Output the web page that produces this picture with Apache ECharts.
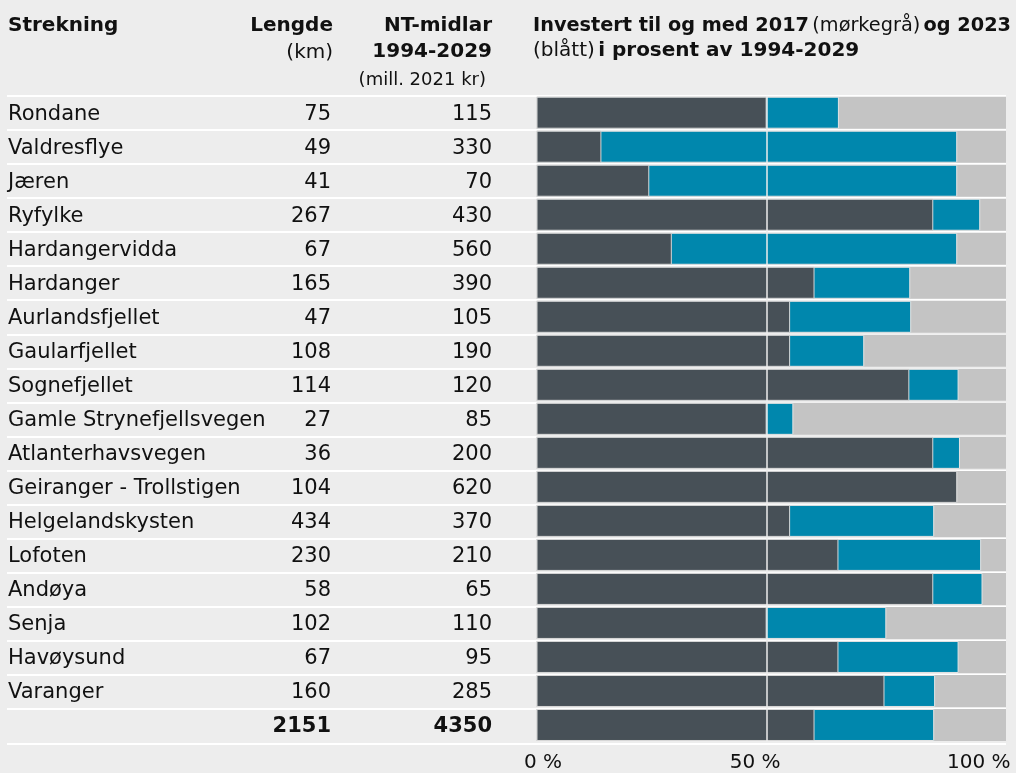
<!DOCTYPE html>
<html>
<head>
<meta charset="utf-8">
<script src="https://cdn.jsdelivr.net/npm/echarts@6/dist/echarts.min.js"></script>
<style>
    html, body { margin: 0; background: #ededed; }
    #chart { width: 1016px; height: 773px; }
</style>
</head>
<body>
<div id="chart"></div>
<script>
    var strekning = ['Rondane', 'Valdresflye', 'Jæren', 'Ryfylke', 'Hardangervidda', 'Hardanger',
        'Aurlandsfjellet', 'Gaularfjellet', 'Sognefjellet', 'Gamle Strynefjellsvegen', 'Atlanterhavsvegen',
        'Geiranger - Trollstigen', 'Helgelandskysten', 'Lofoten', 'Andøya', 'Senja', 'Havøysund', 'Varanger', ''];
    var lengde = [75, 49, 41, 267, 67, 165, 47, 108, 114, 27, 36, 104, 434, 230, 58, 102, 67, 160, 2151];
    var ntMidlar = [115, 330, 70, 430, 560, 390, 105, 190, 120, 85, 200, 620, 370, 210, 65, 110, 95, 285, 4350];
    // prosent investert (lest av figuren)
    var inv2017 = [50, 14.1, 24.5, 86.2, 29.4, 60.4, 55.1, 55.1, 81.0, 50, 86.2, 91.4, 55.1, 65.6, 86.2, 50, 65.6, 75.6, 60.4];
    var inv2023 = [65.7, 91.4, 91.4, 96.4, 91.4, 81.2, 81.4, 71.2, 91.7, 55.8, 92.0, 91.4, 86.4, 96.6, 96.9, 76.0, 91.7, 86.6, 86.4];
    var tickLabels = {0: '0 %', 50: '50 %', 100: '100 %'};

    var FONT = 'DejaVu Sans';
    var last = strekning.length - 1;

    var chart = echarts.init(document.getElementById('chart'));

    function cell(w, align, bold) {
        return { width: w, align: align, fontSize: 21, color: '#111', fontFamily: FONT,
            fontWeight: bold ? 'bold' : 'normal', padding: [3, 0, 0, 0] };
    }

    var option = {
        backgroundColor: '#ededed',
        textStyle: { fontFamily: FONT },
        animation: false,
        grid: [
            { left: 7, right: 10, top: 95.7, height: 647.6 },
            { left: 536.5, right: 10, top: 95.7, height: 647.6 }
        ],
        xAxis: [
            { gridIndex: 0, type: 'value', show: false },
            {
                gridIndex: 1, type: 'value', min: 0, max: 102, interval: 50,
                splitLine: { show: false }, axisLine: { show: false }, axisTick: { show: false },
                axisLabel: {
                    margin: 11, color: '#111', fontSize: 20, fontFamily: FONT,
                    formatter: function (v) {
                        if (v === 0) return '{a|' + tickLabels[0] + '}';
                        if (v === 50) return '{b|' + tickLabels[50] + '}';
                        if (v === 100) return '{c|' + tickLabels[100] + '}';
                        return '';
                    },
                    rich: {
                        a: { fontSize: 20, color: '#111', fontFamily: FONT, padding: [0, 0, 0, 13] },
                        b: { fontSize: 20, color: '#111', fontFamily: FONT, padding: [0, 23, 0, 0] },
                        c: { fontSize: 20, color: '#111', fontFamily: FONT, padding: [0, 36, 0, 0] }
                    }
                }
            }
        ],
        yAxis: [
            {
                gridIndex: 0, type: 'category', inverse: true, data: strekning,
                axisLine: { show: false }, axisTick: { show: false }, axisLabel: { show: false },
                splitLine: { show: true, interval: 0, lineStyle: { color: '#ffffff', width: 2 } }
            },
            {
                gridIndex: 1, type: 'category', inverse: true, data: strekning,
                axisLine: { show: false }, axisTick: { show: false },
                axisLabel: {
                    interval: 0, margin: 528.5, align: 'left',
                    formatter: function (v, i) {
                        if (i === last) return '{n| }{lb|' + lengde[i] + '}{mb|' + ntMidlar[i] + '}';
                        return '{n|' + v + '}{l|' + lengde[i] + '}{m|' + ntMidlar[i] + '}';
                    },
                    rich: {
                        n: cell(250, 'left', false),
                        l: cell(73, 'right', false),
                        m: cell(161, 'right', false),
                        lb: cell(73, 'right', true),
                        mb: cell(161, 'right', true)
                    }
                }
            }
        ],
        graphic: [
            { type: 'text', x: 8, y: 26, style: { text: 'Strekning', font: 'bold 20px ' + FONT, fill: '#111', verticalAlign: 'middle' } },
            { type: 'text', x: 333, y: 26, style: { text: 'Lengde', font: 'bold 20px ' + FONT, fill: '#111', align: 'right', verticalAlign: 'middle' } },
            { type: 'text', x: 333, y: 53, style: { text: '(km)', font: '20px ' + FONT, fill: '#111', align: 'right', verticalAlign: 'middle' } },
            { type: 'text', x: 492, y: 26, style: { text: 'NT-midlar', font: 'bold 20px ' + FONT, fill: '#111', align: 'right', verticalAlign: 'middle' } },
            { type: 'text', x: 492, y: 52, style: { text: '1994-2029', font: 'bold 20px ' + FONT, fill: '#111', align: 'right', verticalAlign: 'middle' } },
            { type: 'text', x: 486, y: 80, style: { text: '(mill. 2021 kr)', font: '18px ' + FONT, fill: '#111', align: 'right', verticalAlign: 'middle' } },
            {
                type: 'text', x: 533, y: 26,
                style: {
                    text: '{b|Investert til og med 2017} {r|(mørkegrå)} {b|og 2023}', verticalAlign: 'middle',
                    rich: {
                        b: { font: 'bold 19.3px ' + FONT, fill: '#111' },
                        r: { font: '19.3px ' + FONT, fill: '#111' }
                    }
                }
            },
            {
                type: 'text', x: 533, y: 51,
                style: {
                    text: '{r|(blått)} {b|i prosent av 1994-2029}', verticalAlign: 'middle',
                    rich: {
                        b: { font: 'bold 20px ' + FONT, fill: '#111' },
                        r: { font: '20px ' + FONT, fill: '#111' }
                    }
                }
            }
        ],
        series: [
            {
                name: '2023', type: 'bar', xAxisIndex: 1, yAxisIndex: 1,
                data: inv2023, barWidth: 32, barGap: '-100%',
                showBackground: true, backgroundStyle: { color: '#c4c4c4' },
                itemStyle: { color: '#0087ad', borderColor: '#e4e4e4', borderWidth: 1 }
            },
            {
                name: '2017', type: 'bar', xAxisIndex: 1, yAxisIndex: 1,
                data: inv2017, barWidth: 32, barGap: '-100%',
                itemStyle: { color: '#475057', borderColor: '#d8d8d8', borderWidth: 1 },
                markLine: {
                    silent: true, symbol: 'none', label: { show: false },
                    lineStyle: { color: '#ededed', width: 1.5, type: 'solid' },
                    data: [{ xAxis: 50 }]
                }
            }
        ]
    };

    chart.setOption(option);
</script>
</body>
</html>
